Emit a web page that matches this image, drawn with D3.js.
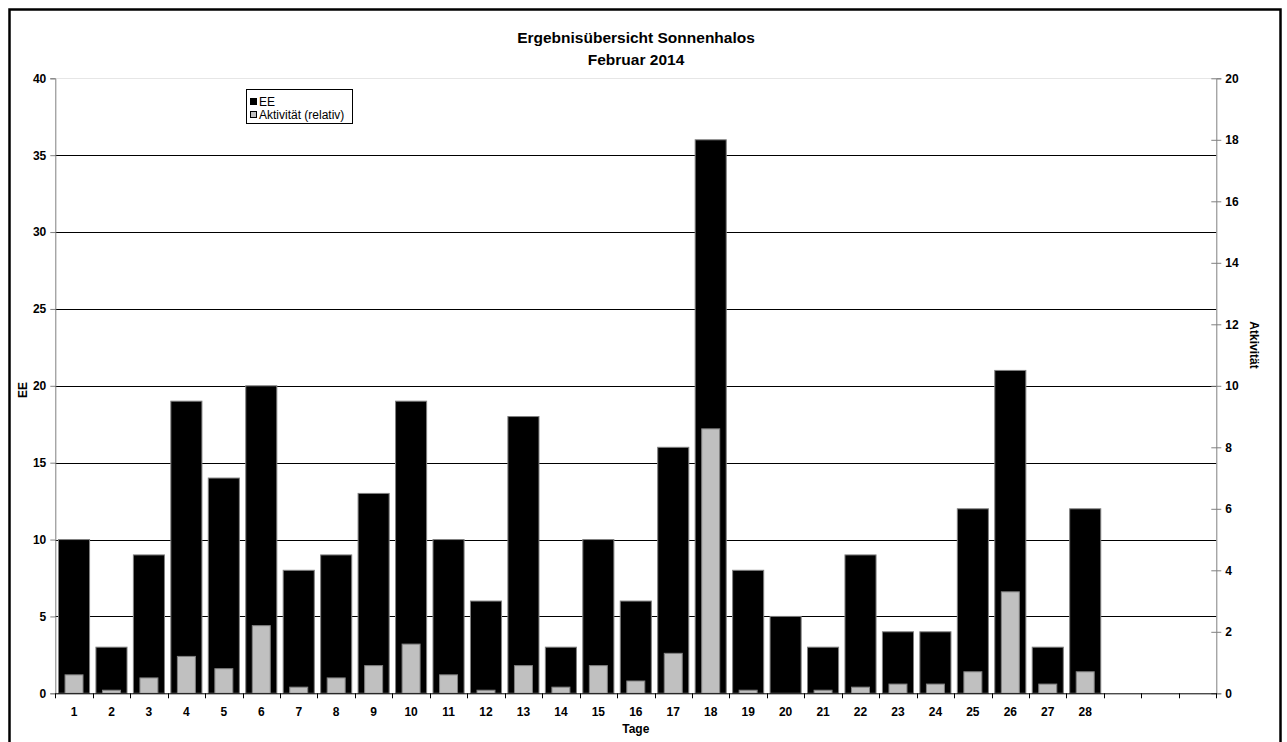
<!DOCTYPE html>
<html><head><meta charset="utf-8">
<script src="https://cdn.jsdelivr.net/npm/d3@7"></script>
<style>
body{margin:0;background:#fff;}
text{font-family:"Liberation Sans",Arial,sans-serif;}
</style></head>
<body><svg id="c" width="1287" height="742"></svg>
<script>
const days = d3.range(1, 32).map(String); // 28 days + 3 empty slots
const dayLabels = ["1","2","3","4","5","6","7","8","9","10","11","12","13","14","15","16","17","18","19","20","21","22","23","24","25","26","27","28","","",""];
const eeValues = [10,3,9,19,14,20,8,9,13,19,10,6,18,3,10,6,16,36,8,5,3,9,4,4,12,21,3,12];
const activityValues = [0.6,0.1,0.5,1.2,0.8,2.2,0.2,0.5,0.9,1.6,0.6,0.1,0.9,0.2,0.9,0.4,1.3,8.6,0.1,0,0.1,0.2,0.3,0.3,0.7,3.3,0.3,0.7];
const leftTicks = [0,5,10,15,20,25,30,35,40];
const rightTicks = [0,2,4,6,8,10,12,14,16,18,20];
const title1 = "Ergebnisübersicht Sonnenhalos";
const title2 = "Februar 2014";

const svg = d3.select("#c");
const L = 55.3, R = 1216.3, T = 78.3, B = 693.3;

svg.append("rect").attr("x",9.5).attr("y",9.5).attr("width",1271).attr("height",760)
  .attr("fill","none").attr("stroke","#000").attr("stroke-width",2.5);

const x = d3.scaleBand().domain(days).range([L,R]).padding(0);
const y = d3.scaleLinear().domain([0,40]).range([B,T]);
const y2 = d3.scaleLinear().domain([0,20]).range([B,T]);

// gridlines
svg.append("g").selectAll("line").data(leftTicks.filter(d=>d>0)).join("line")
  .attr("x1",L).attr("x2",R).attr("y1",d=>Math.round(y(d))+0.5).attr("y2",d=>Math.round(y(d))+0.5)
  .attr("stroke",d=>d===40?"#e6e6e6":"#000").attr("stroke-width",1);

const bw = x.bandwidth();
// EE bars
svg.append("g").selectAll("rect").data(eeValues).join("rect")
  .attr("x",(d,i)=>x(days[i])+bw*0.085).attr("width",bw*0.83)
  .attr("y",d=>y(d)).attr("height",d=>B-y(d))
  .attr("fill","#000").attr("stroke","#808080").attr("stroke-width",1);
// Activity bars
svg.append("g").selectAll("rect").data(activityValues).join("rect")
  .attr("x",(d,i)=>x(days[i])+bw*0.26).attr("width",bw*0.48)
  .attr("y",d=>y2(d)).attr("height",d=>B-y2(d))
  .attr("fill","#c0c0c0").attr("stroke","#808080").attr("stroke-width",d=>d>0?1:0);

// left axis
const gl = svg.append("g").attr("transform",`translate(${L},0)`)
  .call(d3.axisLeft(y).tickValues(leftTicks).tickSize(5).tickPadding(4));
gl.select(".domain").attr("stroke","#808080");
gl.selectAll(".tick line").attr("stroke","#808080");
gl.selectAll("text").attr("font-size",12).attr("font-weight","bold").attr("fill","#000");

// right axis
const gr = svg.append("g").attr("transform",`translate(${R},0)`)
  .call(d3.axisRight(y2).tickValues(rightTicks).tickSize(5).tickPadding(4));
gr.select(".domain").attr("stroke","#808080");
gr.selectAll(".tick line").attr("stroke","#808080").attr("x1",-5);
gr.selectAll("text").attr("font-size",12).attr("font-weight","bold").attr("fill","#000");

// x axis
const gx = svg.append("g").attr("transform",`translate(0,${B})`)
  .call(d3.axisBottom(x).tickSize(0).tickPadding(14).tickFormat((d,i)=>dayLabels[i]));
gx.select(".domain").attr("stroke","#000");
gx.selectAll("text").attr("font-size",12).attr("font-weight","bold").attr("fill","#000");
svg.append("g").selectAll("line").data(days.concat(["end"])).join("line")
  .attr("x1",(d,i)=>Math.round(L+i*bw)+0.5).attr("x2",(d,i)=>Math.round(L+i*bw)+0.5)
  .attr("y1",B).attr("y2",B+5).attr("stroke","#000");

// titles
svg.append("text").attr("x",636).attr("y",43).attr("text-anchor","middle")
  .attr("font-size",15.5).attr("font-weight","bold").text(title1);
svg.append("text").attr("x",636).attr("y",65).attr("text-anchor","middle")
  .attr("font-size",15.5).attr("font-weight","bold").text(title2);

// axis titles
svg.append("text").attr("transform","translate(27,390) rotate(-90)").attr("text-anchor","middle")
  .attr("font-size",12).attr("font-weight","bold").text("EE");
svg.append("text").attr("transform","translate(1250,345) rotate(90)").attr("text-anchor","middle")
  .attr("font-size",12).attr("font-weight","bold").text("Atkivität");
svg.append("text").attr("x",x("16")+bw/2).attr("y",733).attr("text-anchor","middle")
  .attr("font-size",12).attr("font-weight","bold").text("Tage");

// legend
const lg = svg.append("g");
lg.append("rect").attr("x",246.5).attr("y",89.5).attr("width",106).attr("height",34)
  .attr("fill","#fff").attr("stroke","#000");
const legendItems = [["EE","#000"],["Aktivität (relativ)","#c0c0c0"]];
legendItems.forEach((it,i)=>{
  lg.append("rect").attr("x",250.5).attr("y",98.5+i*13).attr("width",6).attr("height",6)
    .attr("fill",it[1]).attr("stroke","#000");
  lg.append("text").attr("x",259).attr("y",106+i*13).attr("font-size",12).text(it[0]);
});
</script></body></html>
